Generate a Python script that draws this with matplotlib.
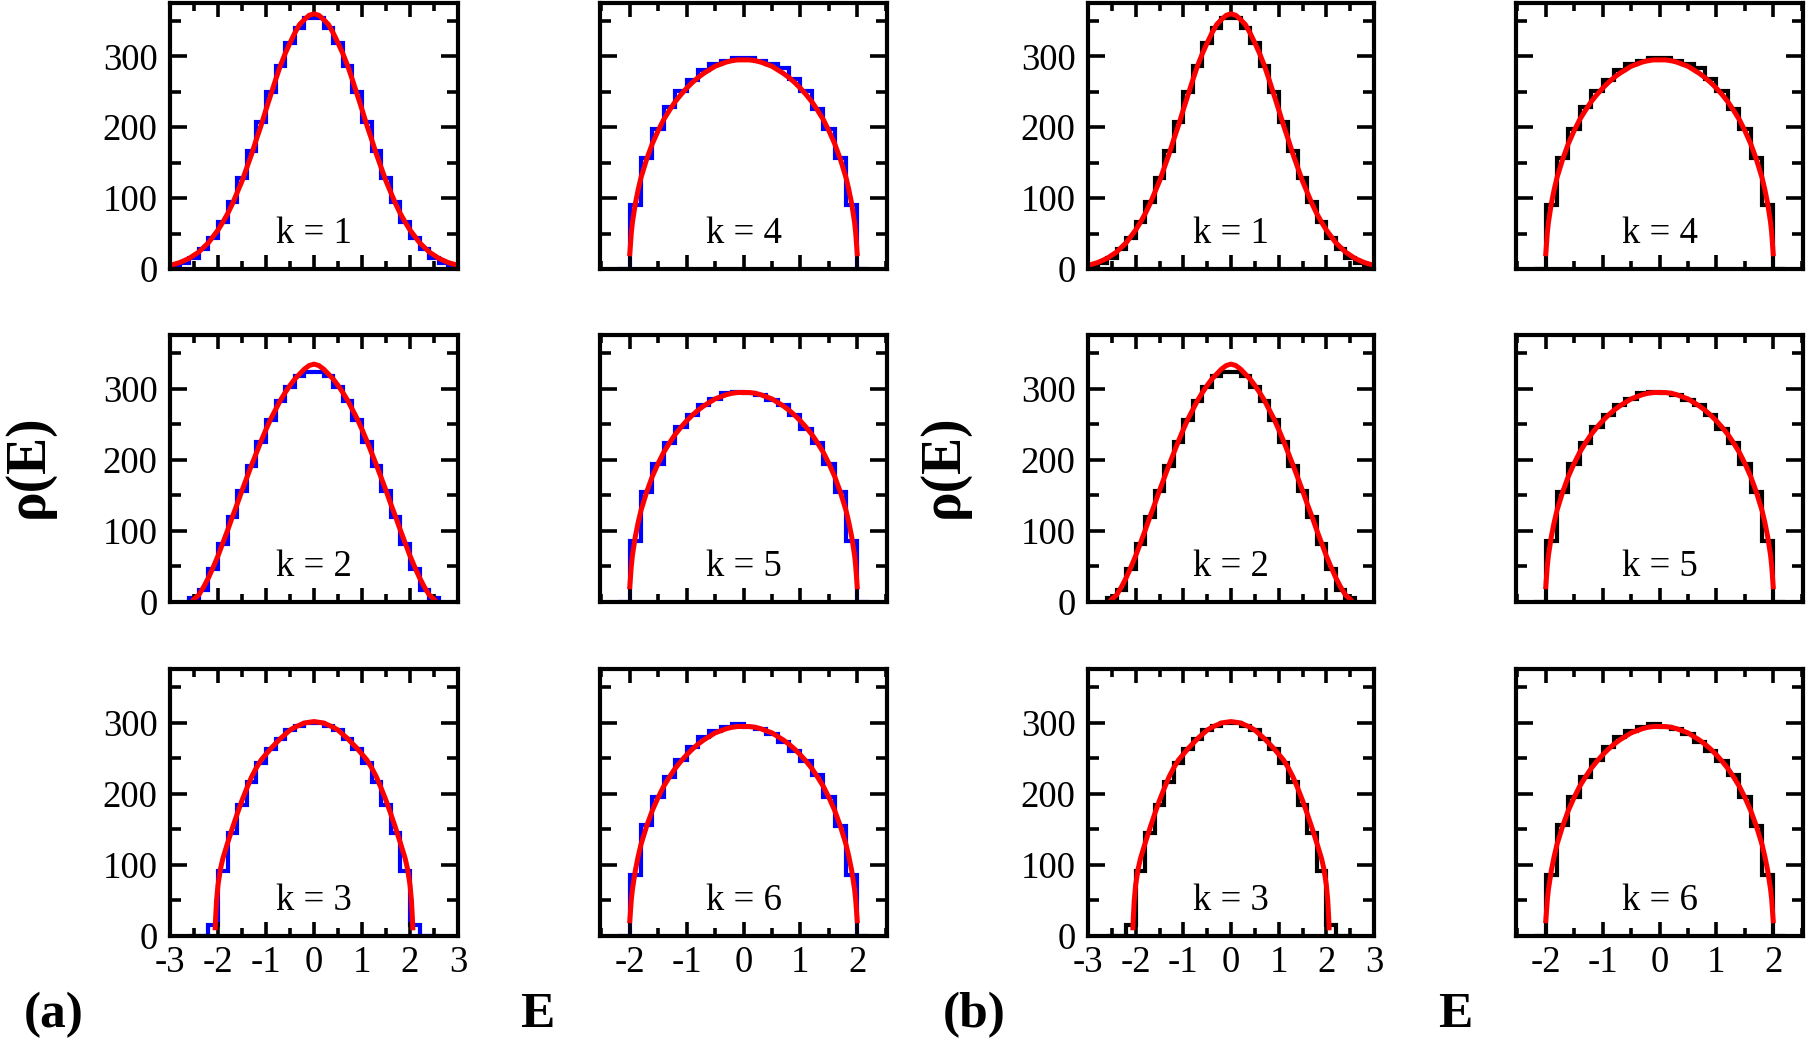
import numpy as np
import matplotlib
matplotlib.use('Agg')
import matplotlib.pyplot as plt
from matplotlib.ticker import MultipleLocator

plt.rcParams['font.family'] = ['Liberation Serif', 'DejaVu Serif']
plt.rcParams['axes.unicode_minus'] = False

# ---- data (bin width 0.2) ----
edges_k1 = np.linspace(-3.0, 3.0, 31)
edges_k23 = np.linspace(-2.6, 2.6, 27)
edges_k456 = np.linspace(-2.2, 2.2, 23)

hist_k1 = [4, 9, 16, 28, 44, 67, 95, 128, 166, 207, 250, 287, 319, 340, 354,
           354, 340, 319, 287, 250, 207, 166, 128, 95, 67, 44, 28, 16, 9, 4]
hist_k2 = [5, 17, 46, 81, 119, 157, 192, 226, 257, 283, 303, 318, 324,
           324, 318, 303, 283, 257, 226, 192, 157, 119, 81, 46, 17, 5]
hist_k3 = [0, 0, 15, 91, 145, 185, 217, 243, 263, 277, 290, 296, 300,
           300, 296, 290, 277, 263, 243, 217, 185, 145, 91, 15, 0, 0]
hist_k4 = [0, 90, 156, 198, 228, 251, 267, 281, 289, 294, 297,
           297, 294, 289, 283, 268, 251, 226, 198, 156, 90, 0]
hist_k5 = [0, 86, 155, 195, 224, 247, 264, 278, 286, 294, 296,
           295, 291, 284, 277, 263, 244, 224, 195, 155, 86, 0]
hist_k6 = [0, 86, 156, 196, 224, 248, 266, 280, 289, 295, 298,
           295, 291, 284, 273, 261, 246, 227, 196, 155, 86, 0]

# theory curves, E >= 0 half (the curves are symmetric)
curve_k1_E = [0, 0.1, 0.2, 0.3, 0.4, 0.5, 0.6, 0.7, 0.8, 0.9, 1.0, 1.1, 1.2, 1.3,
              1.4, 1.5, 1.6, 1.7, 1.8, 1.9, 2.0, 2.2, 2.4, 2.6, 2.8, 3.0]
curve_k1_rho = [360, 358, 352, 345, 333, 319, 304, 287, 267, 246, 225, 203, 183, 162,
                143, 124, 108, 92, 78, 66, 55, 37, 24, 15, 9, 5]
curve_k2_E = [0, 0.1, 0.2, 0.3, 0.4, 0.5, 0.6, 0.7, 0.8, 0.9, 1.0, 1.1, 1.2, 1.3,
              1.4, 1.5, 1.6, 1.7, 1.8, 1.9, 2.0, 2.1, 2.2, 2.3, 2.4, 2.5, 2.55]
curve_k2_rho = [335, 333, 328, 321, 314, 305, 295, 284, 271, 258, 243, 227, 210, 193,
                175, 157, 138, 120, 101, 83, 65, 49, 34, 21, 10, 4, 0]
curve_k3_E = [0, 0.1, 0.2, 0.3, 0.4, 0.5, 0.6, 0.7, 0.8, 0.9, 1.0, 1.1, 1.2, 1.3,
              1.4, 1.5, 1.6, 1.7, 1.8, 1.9, 1.95, 2.0, 2.03, 2.05, 2.06]
curve_k3_rho = [302, 301, 300, 297, 294, 290, 284, 278, 271, 264, 256, 248, 237, 224,
                208, 191, 172, 152, 131, 109, 94, 72, 50, 25, 8]
curve_semi_E = [0, 0.1, 0.2, 0.3, 0.4, 0.5, 0.6, 0.7, 0.8, 0.9, 1.0, 1.1, 1.2, 1.3,
                1.4, 1.5, 1.6, 1.7, 1.8, 1.85, 1.9, 1.95, 1.97, 1.99, 2.0]
curve_semi_rho = [295, 295, 294, 292, 289, 286, 281, 276, 270, 263, 255, 246, 236, 224,
                  211, 195, 177, 155, 129, 112, 92, 66, 51, 29, 18]


def mirror(e, r):
    e = np.asarray(e, float)
    r = np.asarray(r, float)
    return np.r_[-e[:0:-1], e], np.r_[r[:0:-1], r]


panels = {
    1: (edges_k1, hist_k1, mirror(curve_k1_E, curve_k1_rho)),
    2: (edges_k23, hist_k2, mirror(curve_k2_E, curve_k2_rho)),
    3: (edges_k23, hist_k3, mirror(curve_k3_E, curve_k3_rho)),
    4: (edges_k456, hist_k4, mirror(curve_semi_E, curve_semi_rho)),
    5: (edges_k456, hist_k5, mirror(curve_semi_E, curve_semi_rho)),
    6: (edges_k456, hist_k6, mirror(curve_semi_E, curve_semi_rho)),
}

W, H = 1809, 1042
fig = plt.figure(figsize=(W / 100, H / 100), dpi=100)

col_px = [(170, 458), (600, 887), (1088, 1374), (1516, 1803)]
row_px = [(2.5, 269), (335, 602), (669, 936)]

for group, hcolor in enumerate(['#0000ff', 'black']):
    for k in range(1, 7):
        col = 2 * group + (0 if k <= 3 else 1)
        row = (k - 1) % 3
        x0, x1 = col_px[col]
        y0, y1 = row_px[row]
        ax = fig.add_axes([x0 / W, 1 - y1 / H, (x1 - x0) / W, (y1 - y0) / H])
        edges, counts, (ce, cr) = panels[k]
        ax.stairs(counts, edges, color=hcolor, lw=3.0, baseline=0)
        ax.plot(ce, cr, color='#ff0000', lw=3.6, solid_capstyle='butt')
        ax.text(0, 50, f'k = {k}', ha='center', va='center', fontsize=26.5)

        if k <= 3:
            ax.set_xlim(-3, 3)
        else:
            ax.set_xlim(-2.52, 2.52)
        ax.set_ylim(0, 376)
        ax.xaxis.set_major_locator(MultipleLocator(1))
        ax.xaxis.set_minor_locator(MultipleLocator(0.5))
        ax.yaxis.set_major_locator(MultipleLocator(100))
        ax.yaxis.set_minor_locator(MultipleLocator(50))
        ax.tick_params(which='both', direction='in', top=True, right=True,
                       width=2.6, labelsize=26.5)
        ax.tick_params(axis='x', which='major', length=10, pad=7)
        ax.tick_params(axis='x', which='minor', length=6)
        ax.tick_params(axis='y', which='major', length=12.5, pad=9)
        ax.tick_params(axis='y', which='minor', length=8)
        ax.tick_params(labelleft=(k <= 3), labelbottom=(row == 2))
        for sp in ax.spines.values():
            sp.set_linewidth(3)

label_kw = dict(fontsize=37, fontweight='bold', ha='center', va='center')
fig.text(54 / W, 1 - 1015 / H, '(a)', **label_kw)
fig.text(537 / W, 1 - 1015 / H, 'E', **label_kw)
fig.text(974 / W, 1 - 1015 / H, '(b)', **label_kw)
fig.text(1455 / W, 1 - 1015 / H, 'E', **label_kw)
fig.text(29 / W, 1 - 466 / H, 'ρ(E)', rotation=90, fontsize=40,
         fontweight='bold', ha='center', va='center')
fig.text(944 / W, 1 - 466 / H, 'ρ(E)', rotation=90, fontsize=40,
         fontweight='bold', ha='center', va='center')

fig.savefig('out.png', dpi=100)
